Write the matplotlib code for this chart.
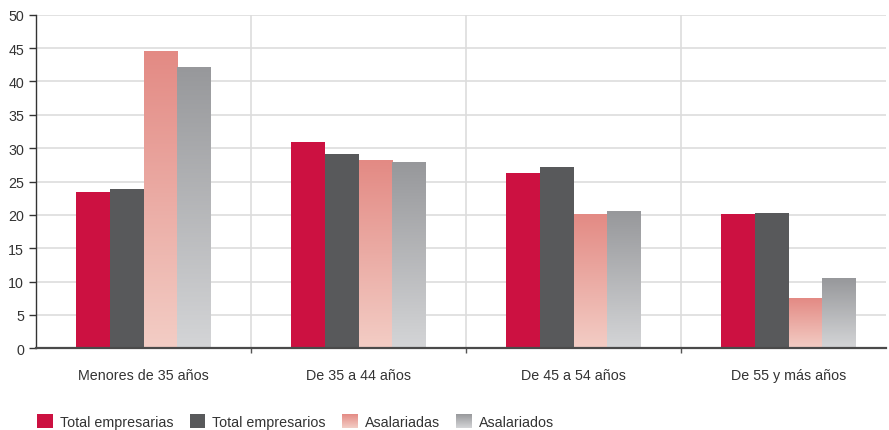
import numpy as np
import matplotlib
matplotlib.use("Agg")
import matplotlib.pyplot as plt
from matplotlib.colors import to_rgb
from matplotlib.patches import Rectangle
from matplotlib.legend_handler import HandlerBase

plt.rcParams['font.family'] = ['Liberation Sans', 'DejaVu Sans']

categories = ["Menores de 35 años", "De 35 a 44 años", "De 45 a 54 años", "De 55 y más años"]
series_names = ["Total empresarias", "Total empresarios", "Asalariadas", "Asalariados"]
total_empresarias = [23.5, 30.9, 26.3, 20.1]
total_empresarios = [23.9, 29.1, 27.2, 20.3]
asalariadas = [44.4, 28.1, 20.0, 7.4]
asalariados = [42.0, 27.8, 20.4, 10.4]
y_ticks = [0, 5, 10, 15, 20, 25, 30, 35, 40, 45, 50]

# (top colour, bottom colour); solid series use the same colour twice
styles = [
    ("#CC1141", "#CC1141"),
    ("#58595B", "#58595B"),
    ("#E38A84", "#F3CDC5"),
    ("#97989B", "#D4D5D7"),
]
values = [total_empresarias, total_empresarios, asalariadas, asalariados]

W, H = 889, 431
fig = plt.figure(figsize=(W / 100, H / 100), dpi=100)
ax_left, ax_right = 36, 886
ax_top, ax_bottom = 15.7, 349.3
ax = fig.add_axes([ax_left / W, (H - ax_bottom) / H,
                   (ax_right - ax_left) / W, (ax_bottom - ax_top) / H])

group_px = 215.0
bar_w = 0.158
x = np.arange(len(categories))


def gradient(top, bottom, n=256):
    t = np.linspace(0, 1, n)[:, None]
    c0 = np.array(to_rgb(bottom))
    c1 = np.array(to_rgb(top))
    return (c0 * (1 - t) + c1 * t)[:, None, :]


for i, (vals, (top, bottom)) in enumerate(zip(values, styles)):
    offs = (i - 1.5) * bar_w
    solid = top == bottom
    bars = ax.bar(x + offs, vals, width=bar_w, color=top if solid else "none",
                  linewidth=0, zorder=3)
    if not solid:
        grad = gradient(top, bottom)
        for r in bars:
            ax.imshow(grad, extent=[r.get_x(), r.get_x() + r.get_width(), 0, r.get_height()],
                      aspect='auto', origin='lower', zorder=3, interpolation='bilinear')

ax.set_xlim(-0.5, -0.5 + (ax_right - ax_left) / group_px)
ax.set_ylim(0, 50)
ax.set_yticks(y_ticks)
ax.set_xticks(x)
ax.set_xticklabels(categories)
ax.set_xticks(x[:-1] + 0.5, minor=True)

ax.grid(axis='y', color='#DDDDDD', linewidth=1.2, zorder=0)
ax.grid(axis='x', which='minor', color='#DDDDDD', linewidth=1.2, zorder=0)
ax.set_axisbelow(True)

for s in ['top', 'right']:
    ax.spines[s].set_visible(False)
ax.spines['left'].set_color('#333333')
ax.spines['left'].set_linewidth(1.0)
ax.spines['bottom'].set_color('#4A4A4A')
ax.spines['bottom'].set_linewidth(1.6)
ax.spines['bottom'].set_zorder(4)

ax.tick_params(axis='y', length=5, width=1, color='#333333', pad=3.5,
               labelsize=10.3, labelcolor='#333333')
ax.tick_params(axis='x', which='major', length=0, pad=14.5,
               labelsize=10.3, labelcolor='#333333')
ax.tick_params(axis='x', which='minor', length=3.5, width=1, color='#555555')


class GradientHandler(HandlerBase):
    def __init__(self, top, bottom, strips=14):
        super().__init__()
        self.top, self.bottom, self.strips = top, bottom, strips

    def create_artists(self, legend, orig_handle, xdescent, ydescent, width, height,
                       fontsize, trans):
        arts = []
        c_top = np.array(to_rgb(self.top))
        c_bot = np.array(to_rgb(self.bottom))
        h = height / self.strips
        for k in range(self.strips):
            t = (k + 0.5) / self.strips
            col = c_bot * (1 - t) + c_top * t
            arts.append(Rectangle((-xdescent, -ydescent + k * h), width, h * 1.05,
                                  facecolor=col, edgecolor='none', transform=trans))
        return arts


handles = [Rectangle((0, 0), 1, 1) for _ in series_names]
handler_map = {h: GradientHandler(t, b) for h, (t, b) in zip(handles, styles)}
fig.legend(handles, series_names, handler_map=handler_map,
           loc='lower left', bbox_to_anchor=(37 / W, 1 / H), ncol=4, frameon=False,
           fontsize=10.3, handlelength=1.1, handleheight=1.05, handletextpad=0.48,
           columnspacing=1.15, borderpad=0, borderaxespad=0, labelcolor='#333333')

fig.savefig("out.png", dpi=100)
